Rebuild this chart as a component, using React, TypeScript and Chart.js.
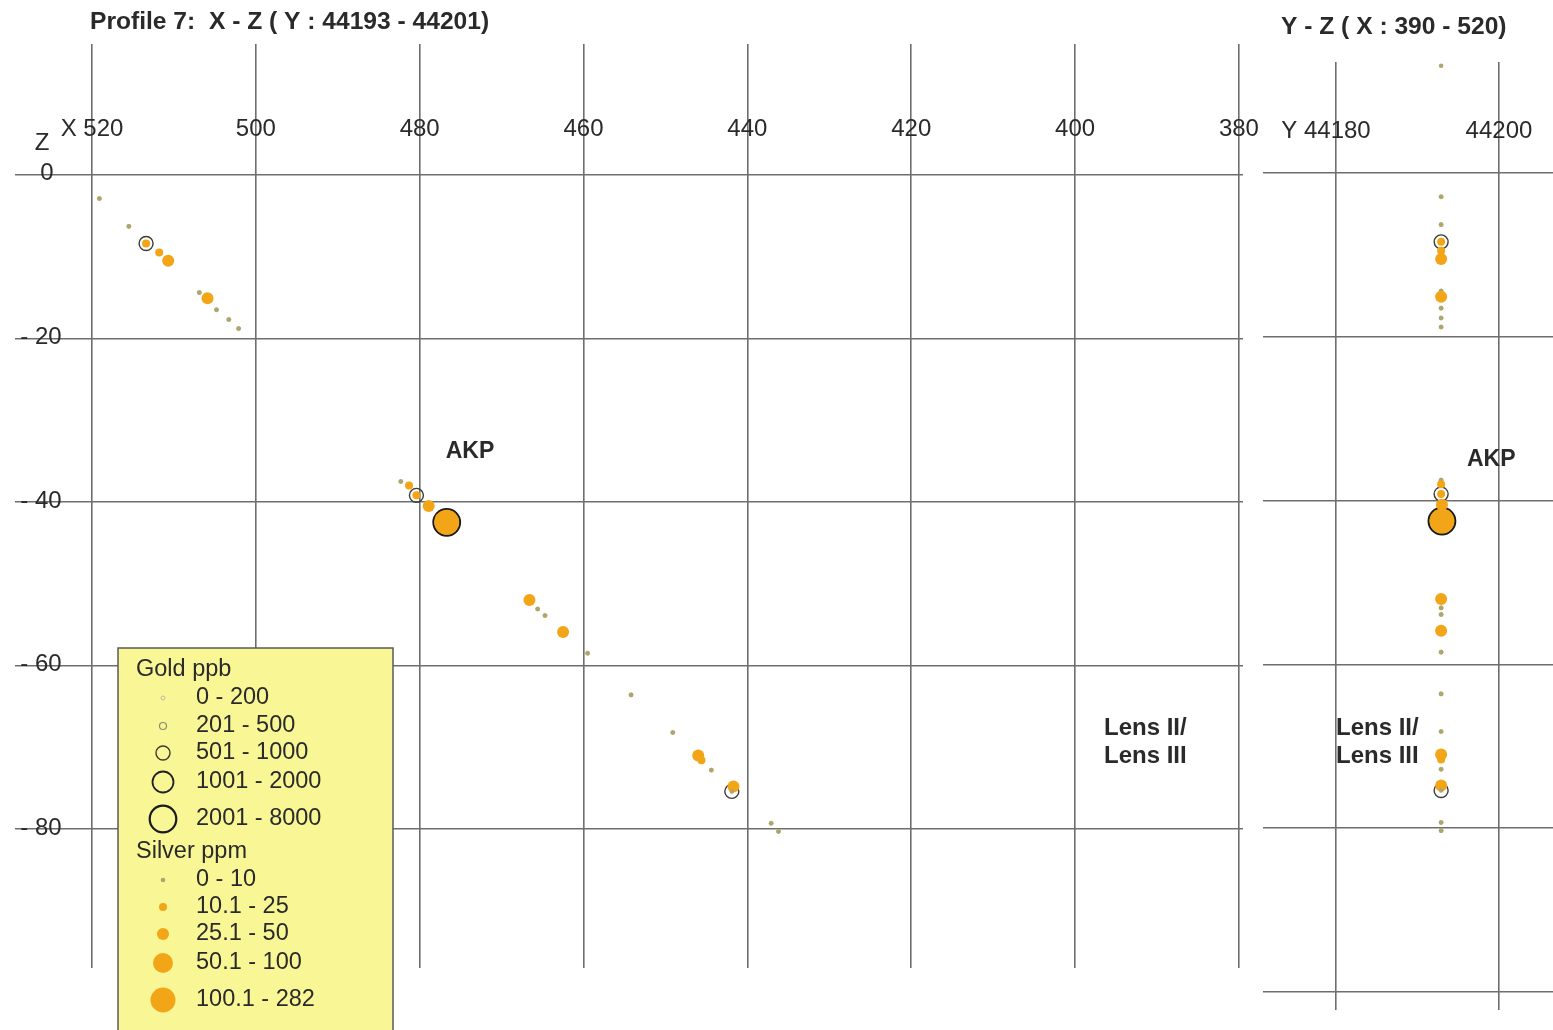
import React, { useEffect, useRef } from "react";
import { Chart, registerables } from "chart.js";

Chart.register(...registerables);

// ---- tick values and labels ----
const xTicks = [520, 500, 480, 460, 440, 420, 400, 380];
const xTickLabels = ["X 520", "500", "480", "460", "440", "420", "400", "380"];
const zTicksLeft = [0, -20, -40, -60, -80];
const zTickLabels = ["0", "- 20", "- 40", "- 60", "- 80"];
const yTicks = [44180, 44200];
const yTickLabels = ["Y 44180", "44200"];
const zTicksRight = [0, -20, -40, -60, -80, -100];

// ---- samples (X, Y, Z, gold class, silver class) ----
const sampleX = [519.1, 515.5, 513.4, 511.8, 510.7, 506.9, 505.9, 504.8, 503.3, 502.1, 482.3, 481.3, 480.4, 478.9, 477.6, 476.7, 466.6, 465.6, 464.7, 462.5, 459.5, 454.2, 449.1, 446.0, 445.6, 444.4, 441.7, 441.9, 437.1, 436.2];
const sampleY = [44192.9, 44192.9, 44192.9, 44192.9, 44192.9, 44192.9, 44192.9, 44192.9, 44192.9, 44192.9, 44192.9, 44192.9, 44192.9, 44193.0, 44193.0, 44193.0, 44192.9, 44192.9, 44192.9, 44192.9, 44192.9, 44192.9, 44192.9, 44192.9, 44192.9, 44192.9, 44192.9, 44192.9, 44192.9, 44192.9];
const sampleZ = [-2.9, -6.3, -8.4, -9.5, -10.5, -14.4, -15.1, -16.5, -17.7, -18.8, -37.5, -38.0, -39.2, -40.5, -41.9, -42.5, -52.0, -53.1, -53.9, -55.9, -58.5, -63.6, -68.2, -71.0, -71.6, -72.8, -74.8, -75.4, -79.3, -80.3];
const goldClass = [0, 0, 2, 0, 0, 0, 0, 0, 0, 0, 0, 0, 2, 1, 1, 4, 0, 0, 0, 0, 0, 0, 0, 0, 0, 0, 0, 2, 0, 0];
const silverClass = [0, 0, 1, 1, 2, 0, 2, 0, 0, 0, 0, 1, 1, 2, 1, 4, 2, 0, 0, 2, 0, 0, 0, 2, 1, 0, 2, 0, 0, 0];
const collarY = [44192.9];
const collarZ = [13.1];

// ---- legend ----
const goldLegendTitle = "Gold ppb";
const goldLegend = ["0 - 200", "201 - 500", "501 - 1000", "1001 - 2000", "2001 - 8000"];
const silverLegendTitle = "Silver ppm";
const silverLegend = ["0 - 10", "10.1 - 25", "25.1 - 50", "50.1 - 100", "100.1 - 282"];

const titleLeft = "Profile 7:  X - Z ( Y : 44193 - 44201)";
const titleRight = "Y - Z ( X : 390 - 520)";
const labelAKP = "AKP";
const labelLens = ["Lens II/", "Lens III"];

// ---- styles ----
const FONT = '"Liberation Sans", Arial, Helvetica, sans-serif';
const TEXT = "#2a2a2a";
const GRID = "#6e6e6e";
const goldR = [2, 3.5, 7, 10.5, 13.3];
const goldCol = ["#bdbba0", "#8c8872", "#3c3a34", "#222222", "#1a1a1a"];
const goldW = [1, 1.2, 1.4, 1.8, 2.2];
const silverR = [2.3, 4, 6, 10, 12.5];
const silverCol = ["#aea66a", "#f2a516", "#f2a516", "#f2a516", "#f2a516"];

function txt(ctx: CanvasRenderingContext2D, s: string, x: number, y: number, font: string, align: CanvasTextAlign = "left", color = TEXT) {
  ctx.save();
  ctx.font = font;
  ctx.fillStyle = color;
  ctx.textAlign = align;
  ctx.textBaseline = "middle";
  ctx.fillText(s, x, y);
  ctx.restore();
}

function datasets(xs: number[], zs: number[]) {
  const pts = xs.map((x, i) => ({ x, y: zs[i] }));
  return [
    {
      label: "Silver",
      data: pts,
      pointRadius: (c: any) => silverR[silverClass[c.dataIndex]],
      pointBackgroundColor: (c: any) => silverCol[silverClass[c.dataIndex]],
      pointBorderWidth: 0,
      pointBorderColor: "rgba(0,0,0,0)",
      showLine: false,
    },
    {
      label: "Gold",
      data: pts,
      pointRadius: (c: any) => goldR[goldClass[c.dataIndex]],
      pointBackgroundColor: "rgba(0,0,0,0)",
      pointBorderColor: (c: any) => goldCol[goldClass[c.dataIndex]],
      pointBorderWidth: (c: any) => goldW[goldClass[c.dataIndex]],
      showLine: false,
    },
  ];
}

function axis(min: number, max: number, ticks: number[], reverse = false) {
  return {
    type: "linear" as const,
    min,
    max,
    reverse,
    afterBuildTicks: (s: any) => {
      s.ticks = ticks.map((v) => ({ value: v }));
    },
    ticks: { display: false },
    grid: { color: GRID, lineWidth: 1.6, drawTicks: false },
    border: { display: false },
  };
}

const leftDecor = {
  id: "leftDecor",
  afterDraw(chart: any) {
    const ctx: CanvasRenderingContext2D = chart.ctx;
    const xs = chart.scales.x;
    const ys = chart.scales.y;
    const f24 = `24px ${FONT}`;
    xTicks.forEach((v, i) => txt(ctx, xTickLabels[i], xs.getPixelForValue(v), 129, f24, "center"));
    txt(ctx, "Z", 42, 143, f24, "center");
    zTicksLeft.forEach((v, i) => txt(ctx, zTickLabels[i], v === 0 ? 47 : 41, ys.getPixelForValue(v) - 1, f24, "center"));
    txt(ctx, titleLeft, 90, 22, `bold 24.6px ${FONT}`);
    txt(ctx, labelAKP, 470, 452, `bold 23px ${FONT}`, "center");
    txt(ctx, labelLens[0], 1104, 728, `bold 24px ${FONT}`);
    txt(ctx, labelLens[1], 1104, 756, `bold 24px ${FONT}`);

    // legend box
    ctx.save();
    ctx.fillStyle = "#f9f695";
    ctx.strokeStyle = "#5a5a5a";
    ctx.lineWidth = 1.5;
    ctx.fillRect(118, 648, 275, 400);
    ctx.strokeRect(118, 648, 275, 400);
    ctx.restore();
    const f23 = `23.5px ${FONT}`;
    txt(ctx, goldLegendTitle, 136, 670, f23);
    const gy = [698, 726, 753, 782, 819];
    goldLegend.forEach((s, i) => {
      ctx.save();
      ctx.beginPath();
      ctx.arc(163, gy[i], goldR[i], 0, Math.PI * 2);
      ctx.strokeStyle = goldCol[i];
      ctx.lineWidth = goldW[i];
      ctx.stroke();
      ctx.restore();
      txt(ctx, s, 196, gy[i], f23);
    });
    txt(ctx, silverLegendTitle, 136, 852, f23);
    const sy = [880, 907, 934, 963, 1000];
    silverLegend.forEach((s, i) => {
      ctx.save();
      ctx.beginPath();
      ctx.arc(163, sy[i], silverR[i], 0, Math.PI * 2);
      ctx.fillStyle = silverCol[i];
      ctx.fill();
      ctx.restore();
      txt(ctx, s, 196, sy[i], f23);
    });
  },
};

const rightDecor = {
  id: "rightDecor",
  afterDraw(chart: any) {
    const ctx: CanvasRenderingContext2D = chart.ctx;
    const xs = chart.scales.x;
    const f24 = `24px ${FONT}`;
    yTicks.forEach((v, i) => txt(ctx, yTickLabels[i], xs.getPixelForValue(v) + (i === 0 ? -10 : 0), 131, f24, "center"));
    txt(ctx, titleRight, 1281, 27, `bold 24.6px ${FONT}`);
    txt(ctx, labelAKP, 1467, 460, `bold 23px ${FONT}`);
    txt(ctx, labelLens[0], 1336, 728, `bold 24px ${FONT}`);
    txt(ctx, labelLens[1], 1336, 756, `bold 24px ${FONT}`);
  },
};

export default function App() {
  const leftRef = useRef<HTMLCanvasElement>(null);
  const rightRef = useRef<HTMLCanvasElement>(null);

  useEffect(() => {
    const left = new Chart(leftRef.current as HTMLCanvasElement, {
      type: "scatter",
      data: { datasets: datasets(sampleX, sampleZ) as any },
      options: {
        responsive: false,
        animation: false,
        events: [],
        layout: { autoPadding: false, padding: { left: 15, top: 44, right: 310, bottom: 62 } },
        plugins: { legend: { display: false }, tooltip: { enabled: false } },
        scales: {
          x: axis(379.5, 529.4, xTicks, true) as any,
          y: axis(-97, 16, zTicksLeft) as any,
        },
      },
      plugins: [leftDecor],
    });
    const rds = datasets(sampleY, sampleZ) as any[];
    rds.unshift({
      label: "Collar",
      data: collarY.map((y, i) => ({ x: y, y: collarZ[i] })),
      pointRadius: silverR[0],
      pointBackgroundColor: silverCol[0],
      pointBorderWidth: 0,
      showLine: false,
    });
    const right = new Chart(rightRef.current as HTMLCanvasElement, {
      type: "scatter",
      data: { datasets: rds },
      options: {
        responsive: false,
        animation: false,
        events: [],
        layout: { autoPadding: false, padding: { left: 1263, top: 62, right: 0, bottom: 20 } },
        plugins: { legend: { display: false }, tooltip: { enabled: false } },
        scales: {
          x: axis(44171.04, 44206.63, yTicks) as any,
          y: axis(-102.2, 13.56, zTicksRight) as any,
        },
      },
      plugins: [rightDecor],
    });
    return () => {
      left.destroy();
      right.destroy();
    };
  }, []);

  const cs: React.CSSProperties = { position: "absolute", left: 0, top: 0, width: 1553, height: 1030 };
  return (
    <div style={{ position: "absolute", left: 0, top: 0, width: 1553, height: 1030, background: "#fff", overflow: "hidden" }}>
      <canvas ref={leftRef} width={1553} height={1030} style={cs} />
      <canvas ref={rightRef} width={1553} height={1030} style={cs} />
    </div>
  );
}
